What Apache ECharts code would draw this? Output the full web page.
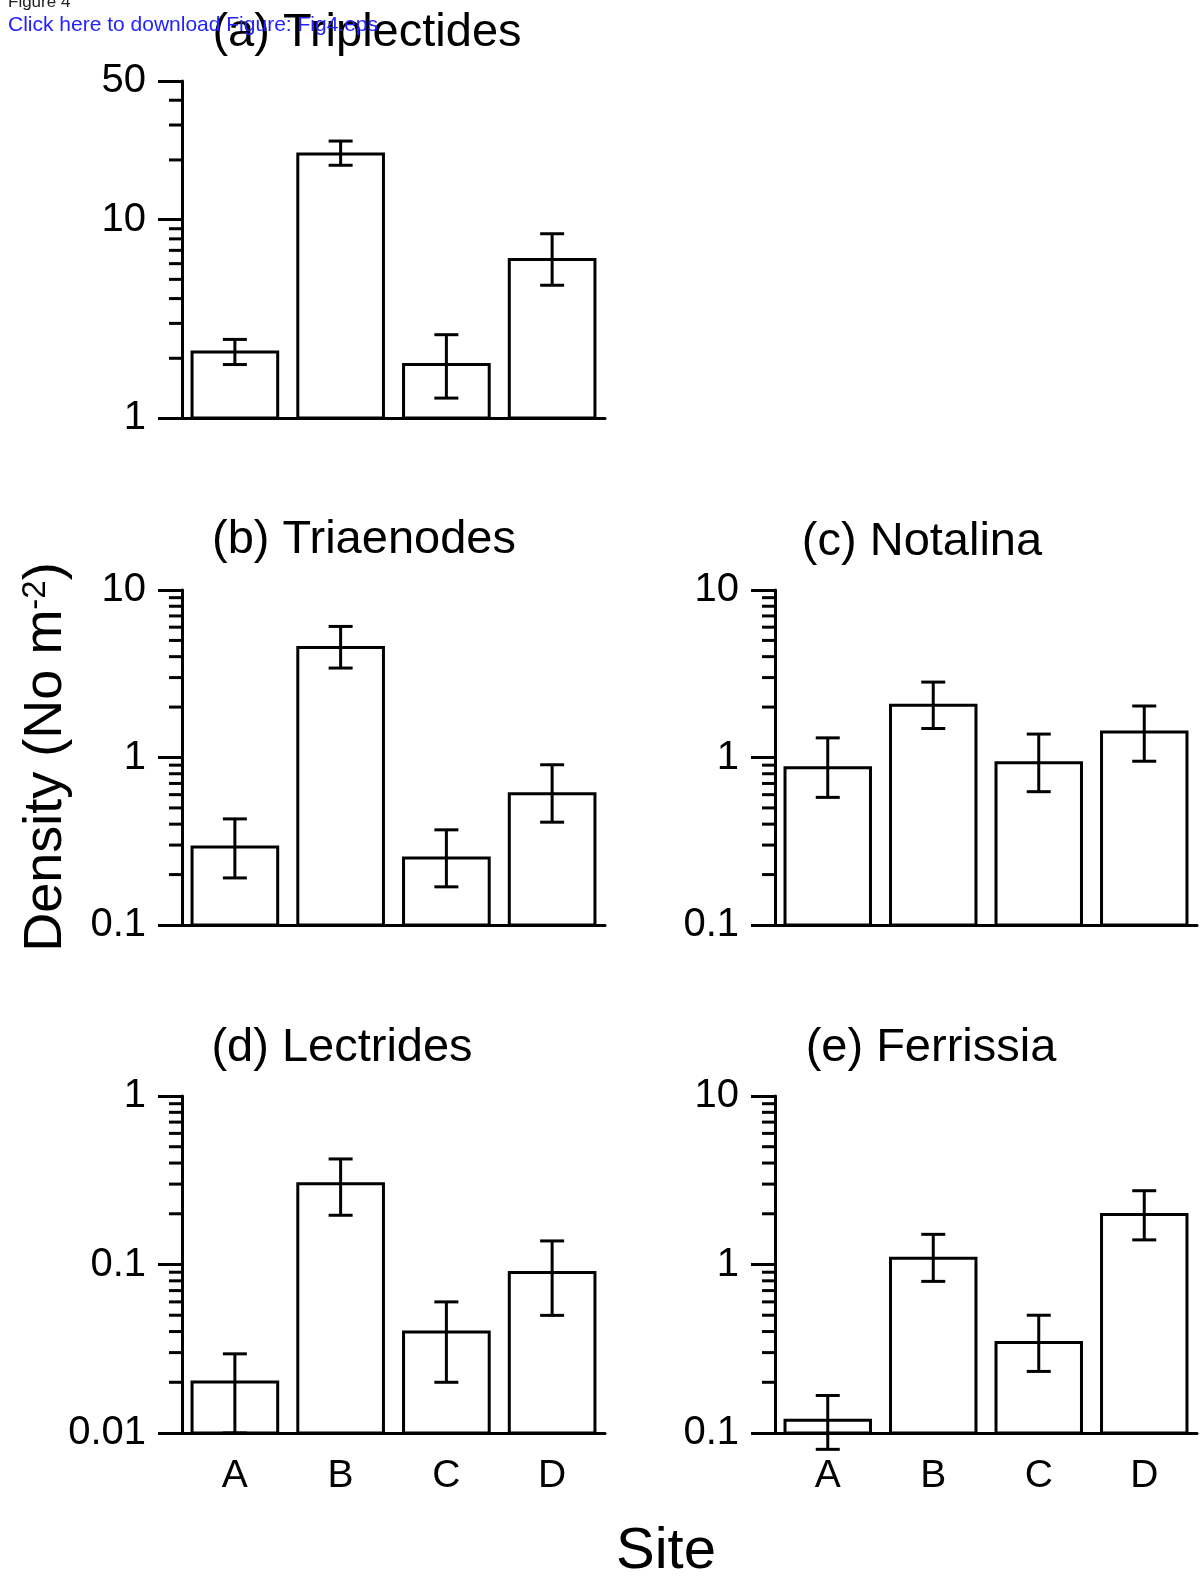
<!DOCTYPE html>
<html>
<head>
<meta charset="utf-8">
<title>Figure 4</title>
<script src="https://cdn.jsdelivr.net/npm/echarts@6/dist/echarts.min.js"></script>
<style>
  html, body { margin: 0; padding: 0; background: #fff; }
  #chart { width: 1204px; height: 1577px; }
</style>
</head>
<body>
<div id="chart"></div>
<script>
const sites = ['A', 'B', 'C', 'D'];

// (a) Triplectides
const triplectidesMean = [2.15, 21.4, 1.86, 6.3];
const triplectidesLow = [1.86, 18.8, 1.26, 4.67];
const triplectidesHigh = [2.49, 24.9, 2.63, 8.49];

// (b) Triaenodes
const triaenodesMean = [0.292, 4.54, 0.251, 0.608];
const triaenodesLow = [0.191, 3.42, 0.169, 0.411];
const triaenodesHigh = [0.43, 6.06, 0.37, 0.905];

// (c) Notalina
const notalinaMean = [0.869, 2.05, 0.929, 1.42];
const notalinaLow = [0.578, 1.49, 0.625, 0.95];
const notalinaHigh = [1.31, 2.82, 1.38, 2.03];

// (d) Lectrides
const lectridesMean = [0.0201, 0.301, 0.0398, 0.0895];
const lectridesLow = [0.01, 0.196, 0.02, 0.0499];
const lectridesHigh = [0.0295, 0.423, 0.06, 0.138];

// (e) Ferrissia
const ferrissiaMean = [0.119, 1.09, 0.344, 1.98];
const ferrissiaLow = [0.08, 0.794, 0.232, 1.40];
const ferrissiaHigh = [0.167, 1.51, 0.5, 2.74];

const panels = [
  { title: '(a) Triplectides', min: 1, max: 50, mean: triplectidesMean, low: triplectidesLow, high: triplectidesHigh,
    grid: { left: 182, top: 81, width: 423, height: 337 }, titlePos: [367, 33], xLabels: false },
  { title: '(b) Triaenodes', min: 0.1, max: 10, mean: triaenodesMean, low: triaenodesLow, high: triaenodesHigh,
    grid: { left: 182, top: 590, width: 423, height: 335 }, titlePos: [364, 540], xLabels: false },
  { title: '(c) Notalina', min: 0.1, max: 10, mean: notalinaMean, low: notalinaLow, high: notalinaHigh,
    grid: { left: 775, top: 590, width: 422, height: 335 }, titlePos: [922, 542], xLabels: false },
  { title: '(d) Lectrides', min: 0.01, max: 1, mean: lectridesMean, low: lectridesLow, high: lectridesHigh,
    grid: { left: 182, top: 1096, width: 423, height: 337 }, titlePos: [342, 1048], xLabels: true },
  { title: '(e) Ferrissia', min: 0.1, max: 10, mean: ferrissiaMean, low: ferrissiaLow, high: ferrissiaHigh,
    grid: { left: 775, top: 1096, width: 422, height: 337 }, titlePos: [931, 1048], xLabels: true }
];

const FONT = '"Liberation Sans", Arial, Helvetica, sans-serif';

// minor ticks at 2..9 of every decade inside [min, max]
function minorTicks(min, max) {
  const out = [];
  for (let d = min; d < max; d *= 10) {
    for (let k = 2; k <= 9; k++) {
      const v = +(k * d).toPrecision(6);
      if (v < max) out.push([0, v]);
    }
  }
  return out;
}

function renderBar(yMin) {
  return function (params, api) {
    const i = api.value(0);
    const top = api.coord([i, api.value(1)]);
    const base = api.coord([i, yMin]);
    const lo = api.coord([i, api.value(2)]);
    const hi = api.coord([i, api.value(3)]);
    const w = api.size([1, 0])[0] * 0.81;
    const cap = 12;
    const st = { stroke: '#000', lineWidth: 3 };
    return {
      type: 'group',
      children: [
        { type: 'rect', shape: { x: top[0] - w / 2, y: top[1], width: w, height: base[1] - top[1] },
          style: { fill: '#fff', stroke: '#000', lineWidth: 3 } },
        { type: 'line', shape: { x1: hi[0], y1: hi[1], x2: lo[0], y2: lo[1] }, style: st },
        { type: 'line', shape: { x1: hi[0] - cap, y1: hi[1], x2: hi[0] + cap, y2: hi[1] }, style: st },
        { type: 'line', shape: { x1: lo[0] - cap, y1: lo[1], x2: lo[0] + cap, y2: lo[1] }, style: st }
      ]
    };
  };
}

function renderMinorTick(params, api) {
  const p = api.coord([0, api.value(1)]);
  const x0 = p[0] - api.size([1, 0])[0] / 2;
  return {
    type: 'line',
    shape: { x1: x0 - 13, y1: p[1], x2: x0, y2: p[1] },
    style: { stroke: '#000', lineWidth: 3 }
  };
}

const grid = [], xAxis = [], yAxis = [], series = [], graphic = [];

panels.forEach((p, idx) => {
  grid.push(p.grid);
  xAxis.push({
    type: 'category', gridIndex: idx, data: sites,
    axisLine: { lineStyle: { color: '#000', width: 3 } },
    axisTick: { show: false },
    axisLabel: { show: p.xLabels, color: '#000', fontSize: 39, fontFamily: FONT, margin: 24 },
    splitLine: { show: false }
  });
  yAxis.push({
    type: 'log', logBase: 10, gridIndex: idx, min: p.min, max: p.max,
    axisLine: { show: true, lineStyle: { color: '#000', width: 3 } },
    axisTick: { show: true, length: 24, inside: false, lineStyle: { color: '#000', width: 3 } },
    axisLabel: {
      color: '#000', fontSize: 40, fontFamily: FONT, margin: 36,
      formatter: v => String(parseFloat(Number(v).toPrecision(4)))
    },
    splitLine: { show: false },
    minorTick: { show: false }
  });
  series.push({
    type: 'custom', xAxisIndex: idx, yAxisIndex: idx, silent: true, clip: false,
    renderItem: renderBar(p.min),
    encode: { x: 0, y: 1 },
    data: p.mean.map((m, i) => [i, m, p.low[i], p.high[i]])
  });
  series.push({
    type: 'custom', xAxisIndex: idx, yAxisIndex: idx, silent: true, clip: false,
    renderItem: renderMinorTick,
    encode: { x: 0, y: 1 },
    data: minorTicks(p.min, p.max)
  });
  graphic.push({
    type: 'text', x: p.titlePos[0], y: p.titlePos[1],
    style: { text: p.title, font: '47px ' + FONT, fill: '#000', textAlign: 'center', textVerticalAlign: 'middle' }
  });
});

graphic.push(
  { type: 'text', x: 8, y: -6,
    style: { text: 'Figure 4', font: '17px ' + FONT, fill: '#222', textAlign: 'left', textVerticalAlign: 'top' } },
  { type: 'text', x: 8, y: 25,
    style: { text: 'Click here to download Figure: Fig4.eps', font: '21px ' + FONT, fill: '#2222ff', textAlign: 'left', textVerticalAlign: 'middle' } },
  { type: 'text', x: 666, y: 1552,
    style: { text: 'Site', font: '58px ' + FONT, fill: '#000', textAlign: 'center', textVerticalAlign: 'middle' } },
  { type: 'text', x: 46, y: 757, rotation: Math.PI / 2,
    style: {
      text: 'Density (No m{sup|-2})', font: '54px ' + FONT, fill: '#000',
      textAlign: 'center', textVerticalAlign: 'middle',
      rich: { sup: { fontSize: 33, fontFamily: FONT, fill: '#000', verticalAlign: 'top' } }
    } }
);

const chart = echarts.init(document.getElementById('chart'), null, { renderer: 'canvas' });
chart.setOption({
  backgroundColor: '#fff',
  animation: false,
  grid: grid,
  xAxis: xAxis,
  yAxis: yAxis,
  series: series,
  graphic: graphic
});
</script>
</body>
</html>
